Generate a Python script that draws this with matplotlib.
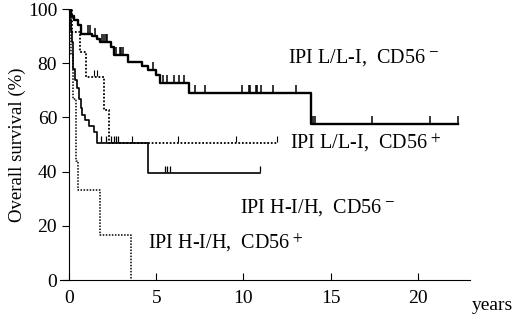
import numpy as np
import matplotlib
matplotlib.use("Agg")
import matplotlib.pyplot as plt

plt.rcParams["font.family"] = ["Liberation Serif", "DejaVu Serif"]
plt.rcParams["mathtext.fontset"] = "stix"

# IPI L/L-I, CD56-
t1 = [0, 0.1, 0.3, 0.5, 0.7, 1.3, 1.6, 1.75, 2.4, 2.6, 3.4, 4.2, 4.5, 5.0, 5.2, 6.9, 13.87, 22.3]
s1 = [100, 97.5, 96, 94, 91, 90, 89, 88, 86, 83, 80.5, 79, 77.5, 75.6, 72.6, 68.9, 57.5, 57.5]
c1 = [1.1, 1.2, 1.5, 1.9, 2.0, 2.1, 2.2, 2.7, 2.9, 3.0, 3.1, 4.8, 5.4, 5.6, 6.0, 6.3,
      6.6, 7.2, 7.8, 9.9, 10.3, 10.4, 10.7, 10.8, 11.0, 11.7, 13.0, 14.0, 14.1, 17.4, 20.7, 22.3]

# IPI L/L-I, CD56+
t2 = [0, 0.15, 0.6, 1.0, 2.0, 2.3, 12.0]
s2 = [100, 91.5, 84, 75, 62.7, 50.4, 50.4]
c2 = [1.43, 1.6, 3.6, 6.27, 9.57, 11.94]

# IPI H-I/H, CD56-
t3 = [0, 0.05, 0.1, 0.15, 0.2, 0.25, 0.32, 0.45, 0.55, 0.67, 0.76, 0.9, 1.15, 1.43, 1.6, 4.55, 10.98]
s3 = [100, 96, 92, 88, 83, 78, 74, 71, 67, 63.5, 61, 59, 57, 54.6, 50.5, 39.4, 39.4]
c3 = [1.83, 2.1, 2.4, 2.6, 2.7, 2.8, 5.5, 5.63, 5.79, 10.98]

# IPI H-I/H, CD56+
t4 = [0, 0.12, 0.25, 0.4, 0.5, 1.8, 3.55]
s4 = [100, 83.3, 66.7, 44, 33.3, 16.7, 0]

labels = ["IPI L/L-I,  CD56$^{\\,-}$", "IPI L/L-I,  CD56$^{\\,+}$",
          "IPI H-I/H,  CD56$^{\\,-}$", "IPI H-I/H,  CD56$^{\\,+}$"]


def level_at(t, s, x):
    idx = np.searchsorted(t, x, side="right") - 1
    return np.array(s)[idx]


fig = plt.figure(figsize=(5.2, 3.26), dpi=100)
ax = fig.add_axes([0.116, 0.141, 0.788, 0.831])

ax.step(t1, s1, where="post", color="black", lw=1.7)
ax.step(t2, s2, where="post", color="black", lw=1.3, ls=(0, (1, 1)))
ax.step(t3, s3, where="post", color="black", lw=1.2)
ax.step(t4, s4, where="post", color="black", lw=1.1, ls=(0, (1, 1)))

ax.plot(c1, level_at(t1, s1, c1) + 1.5, ls="none", marker="|", ms=6, mew=1.1, color="black")
ax.plot(c2, level_at(t2, s2, c2) + 1.5, ls="none", marker="|", ms=5, mew=0.8, color="black")
ax.plot(c3, level_at(t3, s3, c3) + 1.5, ls="none", marker="|", ms=5, mew=0.9, color="black")

ax.text(12.55, 82, labels[0], fontsize=14.5, va="center")
ax.text(12.66, 50.5, labels[1], fontsize=14.5, va="center")
ax.text(9.8, 26.6, labels[2], fontsize=14.5, va="center")
ax.text(4.5, 13.7, labels[3], fontsize=14.5, va="center")

ax.set_xlim(-0.5, 23)
ax.set_ylim(0, 100)
ax.spines["left"].set_position(("data", 0))
ax.spines["top"].set_visible(False)
ax.spines["right"].set_visible(False)
ax.set_xticks([0, 5, 10, 15, 20])
ax.set_yticks([0, 20, 40, 60, 80, 100])
ax.tick_params(axis="x", direction="in", length=5, labelsize=14, pad=7)
ax.tick_params(axis="y", direction="out", length=5, labelsize=14)
ax.set_ylabel("Overall survival (%)", fontsize=13.5, labelpad=1)
ax.text(1.005, -0.095, "years", transform=ax.transAxes, fontsize=14, ha="left", va="center")

fig.savefig("out.png", dpi=100)
